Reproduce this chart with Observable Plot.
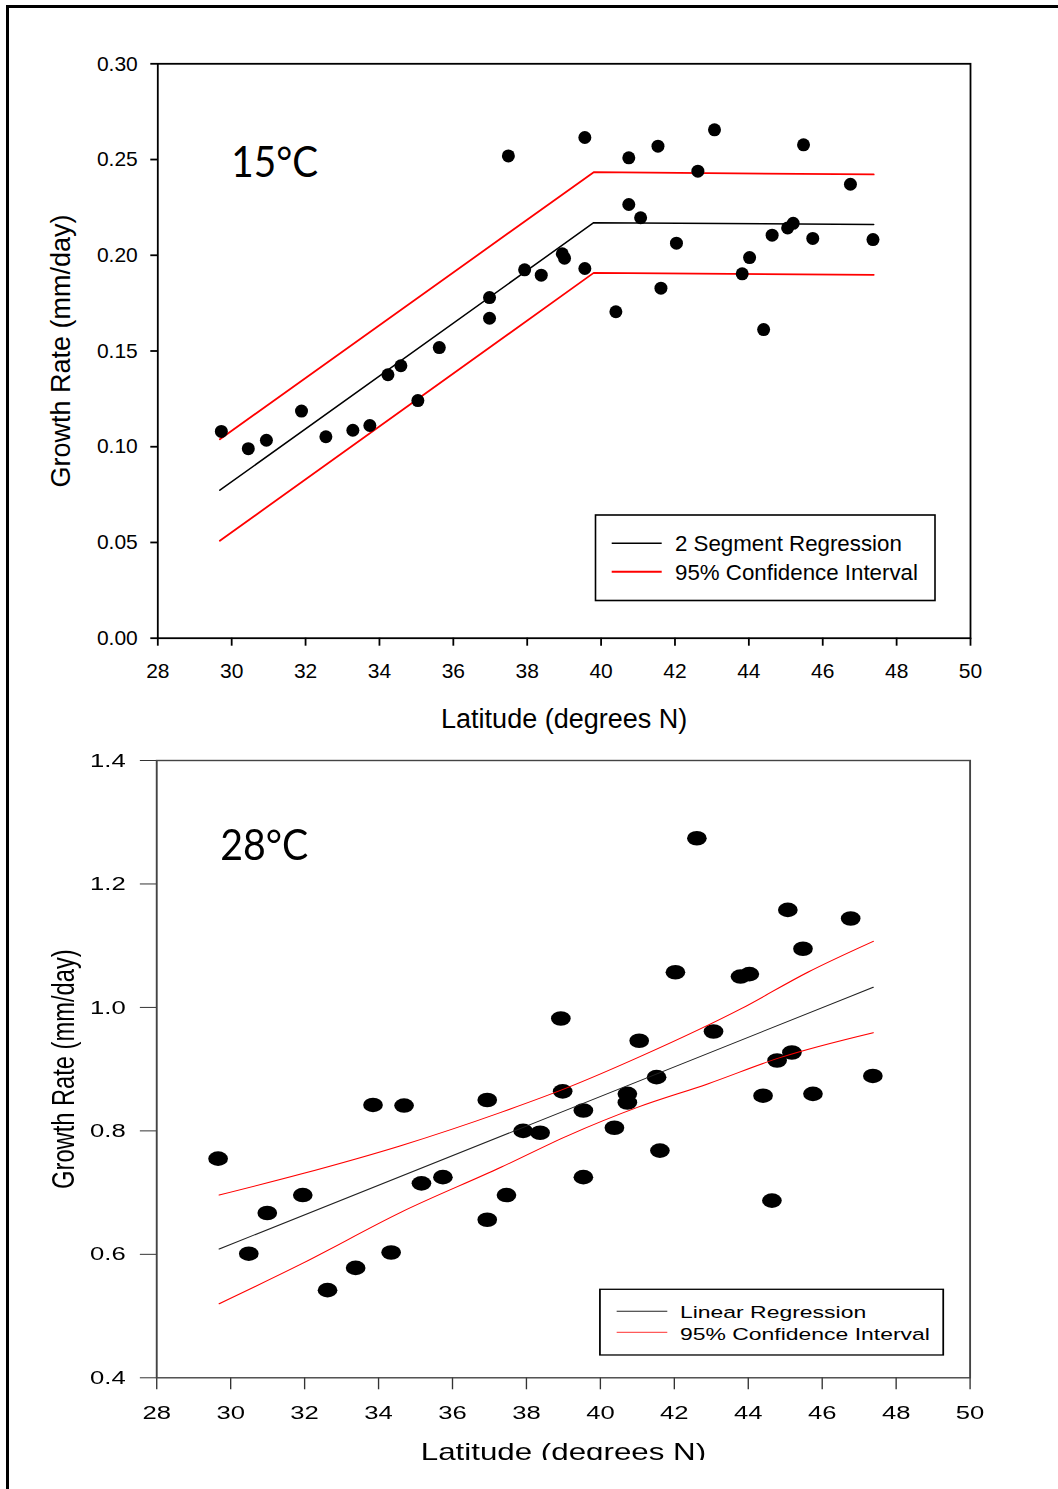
<!DOCTYPE html>
<html><head><meta charset="utf-8">
<script src="https://cdn.jsdelivr.net/npm/d3@7"></script>
<script src="https://cdn.jsdelivr.net/npm/@observablehq/plot@0.6"></script>
<style>
html,body{margin:0;padding:0;background:#fff;}
#page{position:relative;width:1058px;height:1489px;overflow:hidden;background:#fff;}
#border{position:absolute;left:6px;top:5px;right:-20px;bottom:-20px;border-left:3px solid #000;border-top:3px solid #000;z-index:5;pointer-events:none;}
#top{position:absolute;left:0;top:0;width:1058px;height:740px;}
#bottomWrap{position:absolute;left:0;top:740px;width:783.7px;height:720px;overflow:hidden;transform:scaleX(1.35);transform-origin:0 0;}
</style></head><body>
<div id="page"><div id="border"></div><div id="top"></div><div id="bottomWrap"></div></div>
<script>
// ---------- data ----------
const latTicks = [28, 30, 32, 34, 36, 38, 40, 42, 44, 46, 48, 50];
const growth15Ticks = [0.00, 0.05, 0.10, 0.15, 0.20, 0.25, 0.30];
const growth28Ticks = [0.4, 0.6, 0.8, 1.0, 1.2, 1.4];

const lat15 = [29.72, 30.45, 30.94, 31.89, 32.55, 33.28, 33.74, 34.23, 34.58, 35.04, 35.62, 36.98, 36.98, 37.49, 37.93, 38.38, 38.95, 39.01, 39.56, 39.56,
  40.40, 40.75, 40.75, 41.07, 41.54, 41.62, 42.04, 42.62, 43.07, 43.82, 44.02, 44.40, 44.63, 45.05, 45.20, 45.48, 45.73, 46.75, 47.36];
const growth15 = [0.108, 0.099, 0.1034, 0.1186, 0.1052, 0.1086, 0.1111, 0.1376, 0.1423, 0.1241, 0.1518, 0.1671, 0.1779, 0.2519, 0.1924, 0.1896, 0.2008, 0.1985, 0.1931, 0.2615,
  0.1705, 0.2265, 0.2509, 0.2196, 0.2570, 0.1828, 0.2063, 0.2439, 0.2655, 0.1903, 0.1988, 0.1612, 0.2105, 0.2143, 0.2167, 0.2577, 0.2088, 0.2371, 0.2082];

const segLat = [29.68, 39.80, 47.38];
const segFit = [0.0773, 0.2170, 0.2161];
const segUpper = [0.1039, 0.2434, 0.2422];
const segLower = [0.0509, 0.1908, 0.1898];

const lat28 = [29.66, 30.49, 30.99, 31.95, 32.62, 33.38, 33.85, 34.34, 34.69, 35.16, 35.74, 36.94, 36.94, 37.46, 37.91, 38.37, 38.98, 39.54, 39.54, 40.38,
  38.93, 42.61, 45.07, 46.77, 45.48, 42.03, 43.79, 44.03, 41.05, 43.06, 45.18, 44.78, 41.52, 47.37, 40.73, 40.73, 44.40, 45.75, 41.61, 44.64];
const growth28 = [0.755, 0.601, 0.667, 0.696, 0.542, 0.578, 0.842, 0.603, 0.841, 0.715, 0.725, 0.850, 0.656, 0.696, 0.800, 0.797, 0.864, 0.833, 0.725, 0.805,
  0.982, 1.274, 1.158, 1.144, 1.095, 1.057, 1.050, 1.054, 0.946, 0.961, 0.927, 0.914, 0.887, 0.889, 0.860, 0.846, 0.857, 0.860, 0.768, 0.687];

const linLat = [29.69, 47.38];
const linFit = [0.6086, 1.0326];
const ciUpperLat = [29.69, 31.90, 34.60, 37.31, 39.11, 41.10, 43.81, 45.61, 47.38];
const ciUpper = [0.696, 0.730, 0.776, 0.830, 0.870, 0.921, 0.998, 1.057, 1.107];
const ciLowerLat = [29.69, 31.90, 34.60, 37.31, 39.11, 41.00, 42.90, 44.88, 47.38];
const ciLower = [0.520, 0.584, 0.668, 0.741, 0.792, 0.838, 0.876, 0.919, 0.959];

const label15 = "15°C";
const label28 = "28°C";
const xTitle = "Latitude (degrees N)";
const yTitle = "Growth Rate (mm/day)";
const legend15 = ["2 Segment Regression", "95% Confidence Interval"];
const legend28 = ["Linear Regression", "95% Confidence Interval"];

// ---------- helpers ----------
const zip = (xs, ys) => xs.map((x, i) => ({x, y: ys[i]}));
const sans = "'Liberation Sans', Arial, Helvetica, sans-serif";

function addLegend(svg, o) {
  const g = d3.select(svg).append("g").attr("text-anchor", "start");
  g.append("rect").attr("x", o.x).attr("y", o.y).attr("width", o.w).attr("height", o.h)
    .attr("fill", "#fff").attr("stroke", "#000").attr("stroke-width", o.bw);
  o.rows.forEach((r, i) => {
    g.append("line").attr("x1", o.lx1).attr("x2", o.lx2).attr("y1", r.ly).attr("y2", r.ly)
      .attr("stroke", r.color).attr("stroke-width", r.sw);
    g.append("text").attr("x", o.tx).attr("y", r.ty).attr("font-family", sans)
      .attr("text-anchor", "start")
      .attr("font-size", o.fs).attr("fill", "#000").text(o.labels[i]);
  });
}

// ---------- top chart (15°C) ----------
const topPlot = Plot.plot({
  width: 1058, height: 740,
  marginLeft: 157.3, marginRight: 88, marginTop: 63.3, marginBottom: 102.3,
  style: {fontFamily: sans, fontSize: "21px", color: "#000", background: "transparent", overflow: "visible"},
  x: {domain: [28, 50], ticks: latTicks, tickSize: 8, tickPadding: 17, tickFormat: d => String(d), label: null},
  y: {domain: [0, 0.30], ticks: growth15Ticks, tickSize: 7, tickPadding: 13, tickFormat: d3.format(".2f"), label: null},
  marks: [
    Plot.frame({stroke: "#000", strokeWidth: 1.8}),
    Plot.line(zip(segLat, segUpper), {x: "x", y: "y", stroke: "#ff0000", strokeWidth: 1.8}),
    Plot.line(zip(segLat, segLower), {x: "x", y: "y", stroke: "#ff0000", strokeWidth: 1.8}),
    Plot.line(zip(segLat, segFit), {x: "x", y: "y", stroke: "#000", strokeWidth: 1.5}),
    Plot.dot(zip(lat15, growth15), {x: "x", y: "y", r: 6.5, fill: "#000", stroke: "none"}),
    Plot.text([label15], {text: d => d, frameAnchor: "top-left", dx: 73.5, dy: 83.4, lineAnchor: "top", textAnchor: "start", fontSize: 41.7, fontFamily: "Lato, 'Open Sans', sans-serif", fill: "#000"}),
    Plot.text([xTitle], {text: d => d, frameAnchor: "bottom", dy: 70.3, lineAnchor: "top", textAnchor: "middle", fontSize: 27, fill: "#000"}),
    Plot.text([yTitle], {text: d => d, frameAnchor: "left", dx: -106.8, rotate: -90, lineAnchor: "top", textAnchor: "middle", fontSize: 27, fill: "#000"})
  ]
});
d3.select(topPlot).selectAll('g[aria-label$="tick"]').attr("stroke-width", 1.8);
d3.select(topPlot).selectAll("text").filter(function() { return this.textContent === label15; })
  .attr("textLength", 86.7).attr("lengthAdjust", "spacingAndGlyphs");
addLegend(topPlot, {
  x: 595.5, y: 515, w: 339.5, h: 85.5, bw: 1.6,
  lx1: 611.7, lx2: 661.7, tx: 675, fs: 22.3, labels: legend15,
  rows: [{ly: 543.3, ty: 550.5, color: "#000", sw: 1.5}, {ly: 571.7, ty: 579.5, color: "#ff0000", sw: 2}]
});
document.getElementById("top").appendChild(topPlot);

// ---------- bottom chart (28°C), drawn narrow then stretched horizontally ----------
const botPlot = Plot.plot({
  width: 783.7, height: 720,
  marginLeft: 115.6, marginRight: 65.6, marginTop: 20, marginBottom: 82.7,
  style: {fontFamily: sans, fontSize: "19px", color: "#000", background: "transparent", overflow: "visible"},
  x: {domain: [28, 50], ticks: latTicks, tickSize: 12, tickPadding: 15.7, tickFormat: d => String(d), label: null},
  y: {domain: [0.4, 1.4], ticks: growth28Ticks, tickSize: 12, tickPadding: 11, tickFormat: d3.format(".1f"), label: null},
  marks: [
    Plot.frame({stroke: "#444", strokeWidth: 1.4}),
    Plot.dot(zip(lat28, growth28), {x: "x", y: "y", r: 7.3, fill: "#000", stroke: "none"}),
    Plot.line(zip(linLat, linFit), {x: "x", y: "y", stroke: "#222", strokeWidth: 1}),
    Plot.line(zip(ciUpperLat, ciUpper), {x: "x", y: "y", stroke: "#ff0000", strokeWidth: 1, curve: "monotone-x"}),
    Plot.line(zip(ciLowerLat, ciLower), {x: "x", y: "y", stroke: "#ff0000", strokeWidth: 1, curve: "monotone-x"}),
    Plot.text([label28], {text: d => d, frameAnchor: "top-left", dx: 47, dy: 70, lineAnchor: "top", textAnchor: "start", fontSize: 41.7, fontFamily: "Lato, 'Open Sans', sans-serif", fill: "#000"}),
    Plot.text([xTitle], {text: d => d, frameAnchor: "bottom", dy: 65.7, lineAnchor: "top", textAnchor: "middle", fontSize: 23.2, fill: "#000"}),
    Plot.text([yTitle], {text: d => d, frameAnchor: "left", dx: -78.1, rotate: -90, lineAnchor: "top", textAnchor: "middle", fontSize: 23.7, fill: "#000"})
  ]
});
d3.select(botPlot).selectAll('g[aria-label$="tick"]').attr("stroke", "#333");
d3.select(botPlot).selectAll("text").filter(function() { return this.textContent === label28; })
  .attr("textLength", 65.2).attr("lengthAdjust", "spacingAndGlyphs");
addLegend(botPlot, {
  x: 444.4, y: 549.3, w: 254.3, h: 65.7, bw: 1.3,
  lx1: 456.8, lx2: 494.3, tx: 503.7, fs: 17, labels: legend28,
  rows: [{ly: 571.3, ty: 578.3, color: "#222", sw: 1}, {ly: 592.3, ty: 599.7, color: "#ff5a5a", sw: 1.2}]
});
document.getElementById("bottomWrap").appendChild(botPlot);
</script></body></html>
